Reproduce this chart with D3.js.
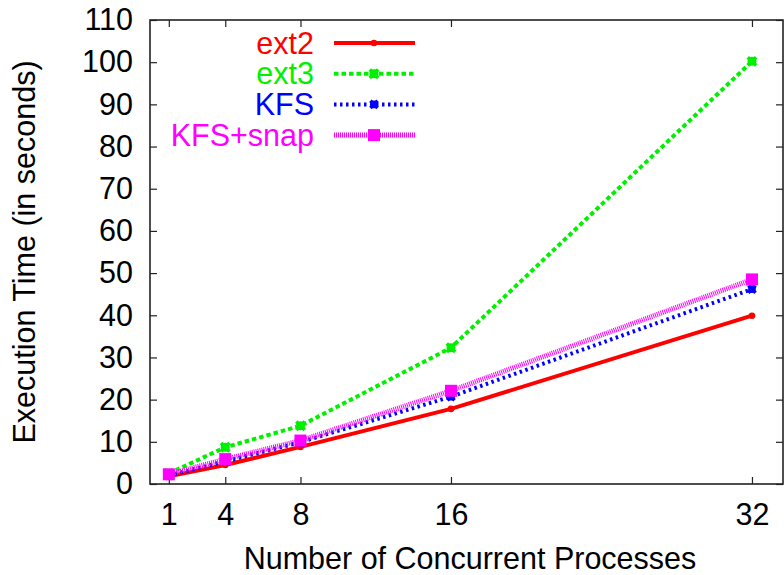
<!DOCTYPE html>
<html>
<head>
<meta charset="utf-8">
<script src="https://cdn.jsdelivr.net/npm/d3@7"></script>
<style>
  body { margin: 0; background: #fff; }
  svg { display: block; font-family: "Liberation Sans", Arial, sans-serif; }
</style>
</head>
<body>
<script>
// values
const procs = [1, 4, 8, 16, 32];
const ext2 = [1.8, 4.5, 8.8, 17.8, 39.9];
const ext3 = [2.5, 8.7, 13.8, 32.3, 100.2];
const kfs = [2.0, 5.4, 9.9, 20.7, 46.2];
const kfsSnap = [2.3, 5.9, 10.3, 22.1, 48.5];
const yTicks = [0, 10, 20, 30, 40, 50, 60, 70, 80, 90, 100, 110];

const series = [
  { name: "ext2", vals: ext2, color: "#ff0000", width: 4, dash: null, mark: "dot" },
  { name: "ext3", vals: ext3, color: "#00f000", width: 4, dash: "4.5,3", mark: "x" },
  { name: "KFS", vals: kfs, color: "#0000ff", width: 4, dash: "2.5,3.5", mark: "xs" },
  { name: "KFS+snap", vals: kfsSnap, color: "#ff00ff", width: 5, dash: "1,1", mark: "sq" }
];

const W = 784, H = 575;
const L = 150, R = 783, T = 20, B = 484;
const FS = "30.5px";

let svg = d3.select("body").append("svg").attr("width", W).attr("height", H);

var x = d3.scaleLinear().domain([0, 33.65]).range([L, R]);
var y = d3.scaleLinear().domain([0, 110]).range([B, T]);

function styleAxis(g) {
  g.select(".domain").remove();
  g.selectAll(".tick line").attr("stroke", "#222").attr("stroke-width", 1.2);
  g.selectAll(".tick text").attr("fill", "#000").style("font-size", FS)
    .style("font-family", "'Liberation Sans', Arial, sans-serif");
}

svg.append("g").attr("transform", "translate(" + L + ",0)")
   .call(d3.axisLeft(y).tickValues(yTicks).tickSizeInner(-7).tickSizeOuter(0).tickPadding(17))
   .call(styleAxis);
svg.append("g").attr("transform", "translate(" + R + ",0)")
   .call(d3.axisRight(y).tickValues(yTicks).tickSizeInner(-7).tickSizeOuter(0).tickFormat(""))
   .call(styleAxis);
svg.append("g").attr("transform", "translate(0," + B + ")")
   .call(d3.axisBottom(x).tickValues(procs).tickSizeInner(-7).tickSizeOuter(0).tickPadding(19))
   .call(styleAxis);
svg.append("g").attr("transform", "translate(0," + T + ")")
   .call(d3.axisTop(x).tickValues(procs).tickSizeInner(-7).tickSizeOuter(0).tickFormat(""))
   .call(styleAxis);

svg.append("rect").attr("x", L).attr("y", T).attr("width", R - L).attr("height", B - T)
   .attr("fill", "none").attr("stroke", "#222").attr("stroke-width", 1.6);

// axis titles
svg.append("text").attr("x", 470).attr("y", 569).attr("text-anchor", "middle")
   .style("font-size", FS).text("Number of Concurrent Processes");
svg.append("text").attr("transform", "translate(35," + ((T + B) / 2) + ") rotate(-90)")
   .attr("text-anchor", "middle").style("font-size", FS).text("Execution Time (in seconds)");

function drawMark(g, type, color, cx, cy) {
  if (type === "dot") {
    g.append("circle").attr("cx", cx).attr("cy", cy).attr("r", 3.3).attr("fill", color);
  } else if (type === "x" || type === "xs") {
    let s = type === "x" ? 4.2 : 3.6;
    g.append("circle").attr("cx", cx).attr("cy", cy).attr("r", s + 0.3).attr("fill", color);
    g.append("path").attr("d", "M" + (cx - s) + "," + (cy - s) + "L" + (cx + s) + "," + (cy + s) +
      "M" + (cx - s) + "," + (cy + s) + "L" + (cx + s) + "," + (cy - s))
      .attr("stroke", color).attr("stroke-width", 3.5);
  } else {
    g.append("rect").attr("x", cx - 6).attr("y", cy - 6).attr("width", 12).attr("height", 12)
      .attr("fill", color);
  }
}

let line = d3.line().x(d => x(d[0])).y(d => y(d[1]));

series.forEach(function(s) {
  let pts = procs.map((p, i) => [p, s.vals[i]]);
  let g = svg.append("g");
  g.append("path").attr("d", line(pts)).attr("fill", "none")
   .attr("stroke", s.color).attr("stroke-width", s.width)
   .attr("stroke-dasharray", s.dash);
  pts.forEach(p => drawMark(g, s.mark, s.color, x(p[0]), y(p[1])));
});

// legend
series.forEach(function(s, i) {
  let ly = 43 + i * 30.7;
  let g = svg.append("g");
  g.append("text").attr("x", 314).attr("y", ly).attr("dy", "0.35em")
   .attr("text-anchor", "end").attr("fill", s.color).style("font-size", FS).text(s.name);
  g.append("line").attr("x1", 334).attr("x2", 415).attr("y1", ly).attr("y2", ly)
   .attr("stroke", s.color).attr("stroke-width", s.width).attr("stroke-dasharray", s.dash);
  drawMark(g, s.mark, s.color, 374, ly);
});
</script>
</body>
</html>
